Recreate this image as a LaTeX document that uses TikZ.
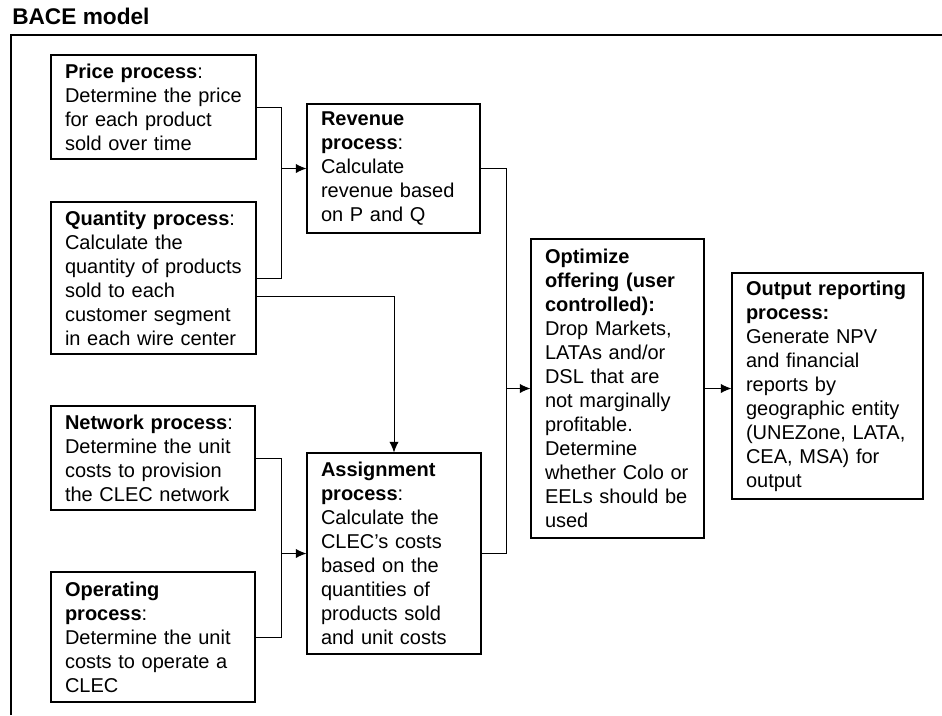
\documentclass[tikz,border=0pt]{standalone}
\usepackage{fontspec}
\setmainfont{Liberation Sans}
\usetikzlibrary{arrows.meta}

% one line of box text that is never re-wrapped
\newcommand{\tl}[1]{\mbox{#1}}

\begin{document}
\begin{tikzpicture}[x=0.75pt, y=-0.75pt,
  procbox/.style={draw, line width=0.8pt, rectangle, inner xsep=10.5pt,
    inner ysep=0pt, align=left, font=\fontsize{15}{18}\selectfont},
  link/.style={line width=0.75pt},
  flow/.style={line width=0.75pt, -{Latex[length=8pt,width=7pt]}},
  frameline/.style={line width=0.9pt}]

\useasboundingbox (0,0) rectangle (942,715);

% title and the open frame around the model
\node[anchor=base west, inner xsep=0pt, font=\fontsize{17}{20}\selectfont\bfseries] (title) at (12,24) {BACE model};
\draw[frameline] (11,715) -- (11,35) -- (942,35);

% input processes
\node[procbox, text width=132.75pt, minimum height=78pt] (price) at (153.5,107)
  {\tl{\textbf{Price process}:}\\ \tl{Determine the price}\\ \tl{for each product}\\ \tl{sold over time}};
\node[procbox, text width=132.75pt, minimum height=114pt] (quantity) at (153.5,278)
  {\tl{\textbf{Quantity process}:}\\ \tl{Calculate the}\\ \tl{quantity of products}\\ \tl{sold to each}\\ \tl{customer segment}\\ \tl{in each wire center}};
\node[procbox, text width=132pt, minimum height=78pt] (network) at (153,458)
  {\tl{\textbf{Network process}:}\\ \tl{Determine the unit}\\ \tl{costs to provision}\\ \tl{the CLEC network}};
\node[procbox, text width=132pt, minimum height=97.5pt] (operating) at (153,637)
  {\tl{\textbf{Operating}}\\ \tl{\textbf{process}:}\\ \tl{Determine the unit}\\ \tl{costs to operate a}\\ \tl{CLEC}};

% intermediate processes
\node[procbox, text width=108.75pt, minimum height=96.75pt] (revenue) at (393.5,168.5)
  {\tl{\textbf{Revenue}}\\ \tl{\textbf{process}:}\\ \tl{Calculate}\\ \tl{revenue based}\\ \tl{on P and Q}};
\node[procbox, text width=109.5pt, minimum height=150.75pt] (assign) at (394,553.5)
  {\tl{\textbf{Assignment}}\\ \tl{\textbf{process}:}\\ \tl{Calculate the}\\ \tl{CLEC’s costs}\\ \tl{based on the}\\ \tl{quantities of}\\ \tl{products sold}\\ \tl{and unit costs}};

% optimisation and reporting
\node[procbox, text width=108.75pt, minimum height=224.25pt] (optimize) at (617.5,388.5)
  {\tl{\textbf{Optimize}}\\ \tl{\textbf{offering (user}}\\ \tl{\textbf{controlled):}}\\ \tl{Drop Markets,}\\ \tl{LATAs and/or}\\ \tl{DSL that are}\\ \tl{not marginally}\\ \tl{profitable.}\\ \tl{Determine}\\ \tl{whether Colo or}\\ \tl{EELs should be}\\ \tl{used}};
\node[procbox, text width=122.25pt, minimum height=169.5pt] (output) at (827.5,386)
  {\tl{\textbf{Output reporting}}\\ \tl{\textbf{process:}}\\ \tl{Generate NPV}\\ \tl{and financial}\\ \tl{reports by}\\ \tl{geographic entity}\\ \tl{(UNEZone, LATA,}\\ \tl{CEA, MSA) for}\\ \tl{output}};

% junction points of the merging connectors
\coordinate (jrev) at (281,168.5);
\coordinate (jasg) at (281,553.5);
\coordinate (jopt) at (506,388.5);

% price and quantity feed revenue
\draw[link] (price.east) -| (jrev);
\draw[link] (quantity.east) -| (jrev);
\draw[flow] (jrev) -- (revenue.west);

% quantity also feeds assignment
\draw[flow] ([yshift=-13.5pt]quantity.east) -| (assign.north);

% network and operating costs feed assignment
\draw[link] (network.east) -| (jasg);
\draw[link] (operating.east) -| (jasg);
\draw[flow] (jasg) -- (assign.west);

% revenue and costs feed the optimisation
\draw[link] (revenue.east) -| (jopt);
\draw[link] (assign.east) -| (jopt);
\draw[flow] (jopt) -- (optimize.west);

% optimisation feeds reporting
\draw[flow] (optimize.east) -- (optimize.east -| output.west);
\end{tikzpicture}
\end{document}
